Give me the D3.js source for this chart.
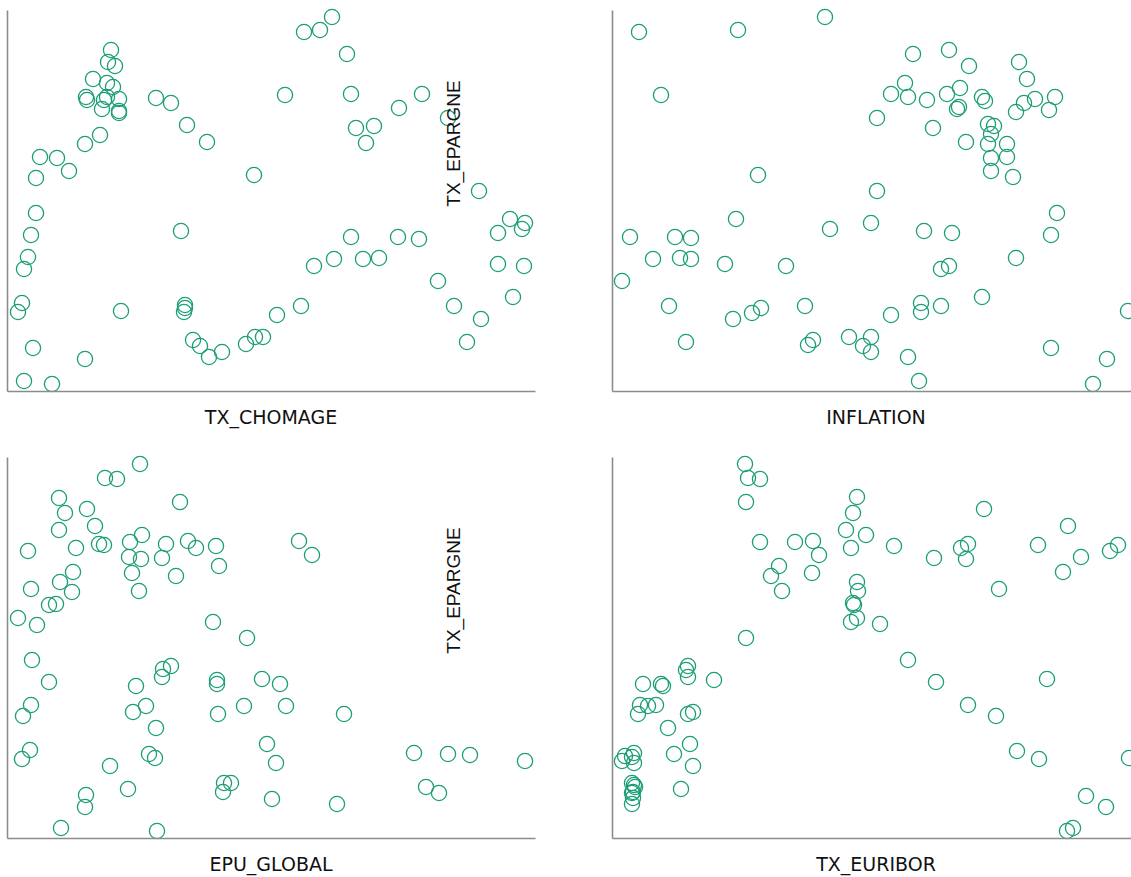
<!DOCTYPE html>
<html>
<head>
<meta charset="utf-8">
<script src="https://cdn.jsdelivr.net/npm/d3@7"></script>
<style>
  html, body { margin: 0; padding: 0; background: #fff; }
  svg { display: block; }
</style>
</head>
<body>
<svg id="chart" width="1131" height="877"></svg>
<script>
// Standardised values (z-scores)
const yLabel = "TX_EPARGNE";
const xLabels = ["TX_CHOMAGE", "INFLATION", "EPU_GLOBAL", "TX_EURIBOR"];

// Panel 1: TX_CHOMAGE vs TX_EPARGNE
const chomageX = [-1.60,-1.63,-1.56,-1.78,-1.64,-1.58,-1.85,-1.84,-1.64,-1.67,-1.69,-1.52,-1.52,-1.52,-1.15,-1.00,-0.84,-0.64,-1.71,-1.86,-2.31,-2.14,-2.02,-2.35,-0.17,-2.35,-2.40,-0.90,-2.43,-2.47,-2.49,-2.53,-1.50,-0.86,-0.86,-0.87,-0.78,-0.71,-0.62,-0.49,-0.25,-0.16,-0.08,0.06,-2.38,-1.86,-2.47,-2.19,0.14,0.33,0.30,0.61,0.49,0.76,0.80,1.51,1.28,0.85,1.03,0.95,1.77,2.08,2.39,2.54,2.51,2.27,0.80,1.27,1.48,0.43,0.63,0.92,1.08,2.27,2.53,1.67,2.42,1.83,2.10,1.96];
const chomageY = [1.50,1.38,1.34,1.21,1.17,1.13,1.03,1.00,1.03,1.00,0.91,1.01,0.89,0.87,1.02,0.97,0.75,0.58,0.65,0.56,0.43,0.42,0.29,0.22,0.25,-0.13,-0.35,-0.31,-0.57,-0.69,-1.03,-1.12,-1.11,-1.05,-1.08,-1.12,-1.40,-1.46,-1.57,-1.52,-1.44,-1.37,-1.37,-1.15,-1.48,-1.59,-1.81,-1.84,1.05,1.68,-1.06,1.83,1.70,1.46,1.06,1.06,0.92,0.72,0.74,0.57,0.82,0.09,-0.19,-0.23,-0.29,-0.33,-0.37,-0.37,-0.39,-0.66,-0.59,-0.59,-0.58,-0.64,-0.66,-0.81,-0.97,-1.06,-1.19,-1.42];

// Panel 2: INFLATION vs TX_EPARGNE
const inflationX = [-2.37,-1.38,-0.51,-2.15,0.01,-1.18,0.01,-1.40,-0.05,-0.46,-2.46,-2.01,-1.85,-2.23,-1.96,-1.85,-1.51,-0.90,-2.54,-2.07,-1.43,-1.24,-1.15,-0.71,-1.90,-0.63,-0.68,-0.27,-0.13,-0.05,-0.05,0.37,0.73,0.93,1.43,1.51,0.29,0.15,0.32,0.51,0.71,0.84,1.06,1.09,0.83,0.81,1.59,1.79,1.48,1.40,1.73,0.57,1.12,1.18,1.15,1.12,0.90,1.31,1.15,1.31,1.15,1.37,1.81,0.48,0.76,1.75,1.40,0.65,0.73,1.06,0.45,0.45,0.65,0.15,2.52,0.32,0.43,1.75,2.31,2.17];
const inflationY = [1.68,1.70,1.83,1.05,0.82,0.25,0.09,-0.19,-0.23,-0.29,-0.37,-0.37,-0.38,-0.59,-0.58,-0.59,-0.64,-0.66,-0.81,-1.06,-1.19,-1.13,-1.08,-1.06,-1.42,-1.40,-1.45,-1.37,-1.46,-1.37,-1.52,1.46,1.50,1.34,1.38,1.21,1.17,1.06,1.03,1.00,1.06,1.12,1.03,0.99,0.93,0.91,1.01,1.03,0.97,0.88,0.90,0.72,0.76,0.74,0.66,0.56,0.58,0.56,0.42,0.43,0.29,0.23,-0.13,-0.31,-0.33,-0.35,-0.58,-0.69,-0.66,-0.97,-1.03,-1.12,-1.06,-1.15,-1.11,-1.57,-1.81,-1.48,-1.59,-1.84];

// Panel 3: EPU_GLOBAL vs TX_EPARGNE
const epuX = [-1.31,-1.66,-1.54,-0.91,-2.12,-2.06,-1.84,-1.76,-2.12,-1.29,-1.72,-1.67,-1.41,-1.95,-2.43,-1.05,-0.83,-0.75,-0.55,-1.42,-1.30,-1.09,-0.52,-1.39,-0.95,-1.98,-2.11,-1.99,-2.40,-1.32,-2.22,-2.15,-2.53,-2.34,-0.58,-0.24,-2.39,-2.22,-1.08,-1.00,-1.09,-0.54,-0.54,-0.09,0.09,-1.35,-2.40,-2.48,-1.38,-1.25,-0.53,-0.27,0.15,-1.15,-2.41,-2.49,-1.22,-1.16,-0.04,0.05,-1.61,-1.43,-0.47,-0.40,-0.48,0.01,-1.85,-1.86,-2.10,-1.14,0.28,0.41,0.73,0.66,1.43,1.77,1.99,2.54,1.55,1.68];
const epuY = [1.83,1.69,1.68,1.45,1.49,1.34,1.38,1.21,1.17,1.12,1.03,1.02,1.05,0.99,0.96,1.03,1.06,0.99,1.01,0.90,0.88,0.89,0.81,0.74,0.71,0.75,0.65,0.55,0.58,0.56,0.42,0.43,0.29,0.22,0.25,0.09,-0.13,-0.35,-0.22,-0.19,-0.30,-0.33,-0.37,-0.32,-0.37,-0.39,-0.58,-0.69,-0.65,-0.59,-0.67,-0.59,-0.59,-0.81,-1.03,-1.12,-1.07,-1.11,-0.97,-1.16,-1.19,-1.42,-1.36,-1.36,-1.45,-1.52,-1.48,-1.60,-1.81,-1.84,1.06,0.92,-0.67,-1.57,-1.06,-1.07,-1.08,-1.14,-1.40,-1.46];

// Panel 4: TX_EURIBOR vs TX_EPARGNE
const euriborX = [-1.31,-1.28,-1.16,-1.30,-0.19,-0.23,-0.30,-0.10,-0.25,-1.16,-0.81,-0.63,-0.57,-0.97,-1.05,-0.64,-0.94,-0.19,-0.18,-0.23,-0.22,-0.19,-0.25,0.04,-1.30,-1.88,-1.90,-1.88,-1.62,-2.33,-2.15,-2.13,-2.36,-2.28,-2.20,-2.38,-1.88,-1.83,-2.08,-1.86,-2.02,-1.83,-2.51,-2.42,-2.54,-2.42,-2.44,-1.95,-2.44,-2.41,-2.42,-2.44,-2.43,-2.43,-2.44,0.18,0.58,0.85,0.92,0.90,1.08,1.62,1.92,2.05,1.87,2.34,2.42,1.23,0.32,0.60,1.71,0.92,1.20,1.41,1.63,2.53,2.10,2.30,1.91,1.97];
const euriborY = [1.83,1.69,1.68,1.45,1.50,1.34,1.17,1.12,0.99,1.05,1.05,1.06,0.92,0.81,0.71,0.74,0.56,0.65,0.56,0.44,0.42,0.29,0.25,0.23,0.09,-0.19,-0.23,-0.30,-0.33,-0.37,-0.37,-0.39,-0.58,-0.59,-0.58,-0.67,-0.67,-0.65,-0.81,-0.97,-1.07,-1.19,-1.09,-1.06,-1.14,-1.16,-1.10,-1.42,-1.36,-1.40,-1.38,-1.46,-1.45,-1.51,-1.57,1.01,0.89,0.99,1.03,0.88,1.38,1.02,1.21,0.90,0.75,0.96,1.02,0.58,-0.13,-0.35,-0.32,-0.58,-0.69,-1.04,-1.12,-1.11,-1.49,-1.60,-1.84,-1.81];

const panels = [
  { label: xLabels[0], xs: chomageX,   ys: chomageY,   col: 0, row: 0, showY: false },
  { label: xLabels[1], xs: inflationX, ys: inflationY, col: 1, row: 0, showY: true },
  { label: xLabels[2], xs: epuX,       ys: epuY,       col: 0, row: 1, showY: false },
  { label: xLabels[3], xs: euriborX,   ys: euriborY,   col: 1, row: 1, showY: true }
];

const svg = d3.select("#chart");
const lefts = [7, 612], tops = [10, 457];
const W = 528, H = 381;
const color = "#1b9e77";

const allX = [].concat(chomageX, inflationX, epuX, euriborX);
const allY = [].concat(chomageY, inflationY, epuY, euriborY);
const xExt = d3.extent(allX), yExt = d3.extent(allY);
const xDom = [xExt[0] - 0.1, xExt[1] + 0.1];
const yDom = [yExt[0] - 0.07, yExt[1] + 0.07];

panels.forEach(p => {
  const x0 = lefts[p.col], y0 = tops[p.row];
  const x = d3.scaleLinear().domain(xDom).range([x0, x0 + W]);
  const y = d3.scaleLinear().domain(yDom).range([y0 + H, y0]);
  const data = p.xs.map((v, i) => ({ x: v, y: p.ys[i] }));

  const g = svg.append("g");
  g.selectAll("circle").data(data).join("circle")
    .attr("cx", d => x(d.x))
    .attr("cy", d => y(d.y))
    .attr("r", 7.6)
    .attr("fill", "none")
    .attr("stroke", color)
    .attr("stroke-width", 1.3);

  const xa = g.append("g").attr("transform", `translate(0,${y0 + H})`)
    .call(d3.axisBottom(x).ticks(0).tickSizeOuter(0));
  const ya = g.append("g").attr("transform", `translate(${x0},0)`)
    .call(d3.axisLeft(y).ticks(0).tickSizeOuter(0));
  [xa, ya].forEach(a => a.select(".domain").attr("stroke", "#8c8c8c").attr("stroke-width", 1.6));

  g.append("text")
    .attr("x", x0 + W / 2)
    .attr("y", y0 + H + 33)
    .attr("text-anchor", "middle")
    .attr("font-family", "'DejaVu Sans', Verdana, sans-serif")
    .attr("font-size", 19)
    .attr("fill", "#111")
    .text(p.label);

  if (p.showY) {
    g.append("text")
      .attr("transform", `translate(${x0 - 152},${y0 + 133.5}) rotate(-90)`)
      .attr("text-anchor", "middle")
      .attr("font-family", "'Liberation Sans', Arial, sans-serif")
      .attr("font-size", 19)
      .attr("fill", "#111")
      .text(yLabel);
  }
});
</script>
</body>
</html>
